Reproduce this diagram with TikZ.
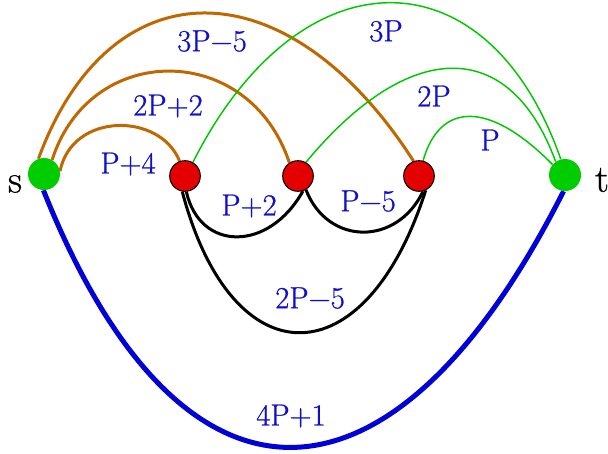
\documentclass[tikz,border=0pt]{standalone}
\usepackage{fontspec}
\newfontfamily\timesish{Latin Modern Roman}[FakeBold=0.8]
\usetikzlibrary{backgrounds}
\definecolor{brn}{RGB}{192,104,0}
\definecolor{grn}{RGB}{0,200,0}
\definecolor{gnode}{RGB}{0,205,0}
\definecolor{rnode}{RGB}{228,0,0}
\definecolor{lbl}{RGB}{15,15,205}
\definecolor{blu}{RGB}{0,0,215}
\begin{document}
\begin{tikzpicture}[x=0.75pt,y=-0.75pt,
  endpt/.style={circle,fill=gnode,minimum size=24pt,inner sep=0pt},
  midpt/.style={circle,fill=rnode,draw=black,line width=0.75pt,minimum size=23pt,inner sep=0pt},
  lab/.style={text=lbl,font=\timesish\fontsize{23}{26}\selectfont,inner sep=0pt},
  term/.style={text=black,font=\timesish\fontsize{29}{32}\selectfont,inner sep=0pt},
  bedge/.style={brn,line width=2.25pt},
  gedge/.style={grn,line width=1.1pt},
  kedge/.style={black,line width=2.25pt},
  uedge/.style={blu,line width=3.75pt}]
\useasboundingbox (0,0) rectangle (608,454);
\node[endpt] (s) at (44,174) {};
\node[midpt] (r1) at (185,176) {};
\node[midpt] (r2) at (298,176) {};
\node[midpt] (r3) at (419,176) {};
\node[endpt] (t) at (565,175) {};
\node[term] (ls) at (15,184) {s};
\node[term] (lt) at (602,180) {t};
\begin{pgfonlayer}{background}
\draw[bedge] (s.10) .. controls (72,112) and (160,112) .. (r1.110);
\draw[bedge] (s.60) .. controls (90,41) and (249,41) .. (r2.123);
\draw[bedge] (s.110) .. controls (110,-36) and (287,-36) .. (r3.110);
\draw[gedge] (r1.60) .. controls (300,-50) and (488,-50) .. (t.105);
\draw[gedge] (r2.60) .. controls (410,37) and (510,37) .. (t.125);
\draw[gedge] (r3.75) .. controls (440,101) and (490,101) .. (t.140);
\draw[kedge] (r1.-85) .. controls (200,252) and (269,252) .. (r2.-72);
\draw[kedge] (r2.-60) .. controls (328,246) and (397,246) .. (r3.-75);
\draw[kedge] (r1.-100) .. controls (232,380) and (365,380) .. (r3.-65);
\draw[uedge] (s.-92) .. controls (180,533) and (391,533) .. (t.-95);
\end{pgfonlayer}
\node[lab] (l1) at (212,41) {3P−5};
\node[lab] (l2) at (168,106) {2P+2};
\node[lab] (l3) at (128,164) {P+4};
\node[lab] (l4) at (386,31) {3P};
\node[lab] (l5) at (434,96) {2P};
\node[lab] (l6) at (490,140) {P};
\node[lab] (l7) at (249,206) {P+2};
\node[lab] (l8) at (368,201) {P−5};
\node[lab] (l9) at (310,298) {2P−5};
\node[lab] (l10) at (291,416) {4P+1};
\end{tikzpicture}
\end{document}
